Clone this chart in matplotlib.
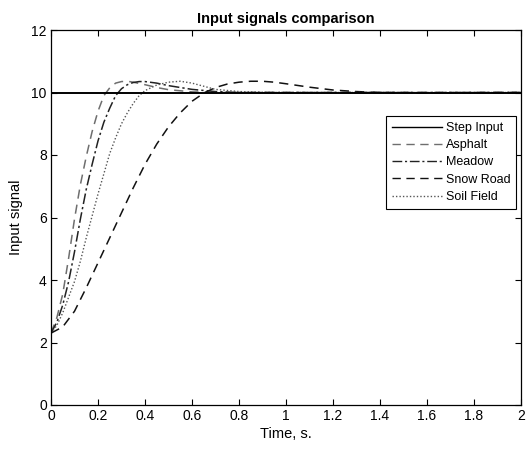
import matplotlib
matplotlib.use("Agg")
import matplotlib.pyplot as plt

plt.rcParams['font.family'] = ['Liberation Sans', 'DejaVu Sans']

step_t = [0, 0, 2]
step_v = [0, 10, 10]

asphalt_t = [0, 0.025, 0.05, 0.075, 0.1, 0.125, 0.15, 0.175, 0.2, 0.225, 0.25, 0.275,
             0.3, 0.325, 0.35, 0.4, 0.45, 0.5, 0.6, 0.7, 2.0]
asphalt_v = [2.3, 2.8, 3.55, 4.7, 5.95, 7.05, 7.95, 8.75, 9.4, 9.9, 10.15, 10.3,
             10.35, 10.36, 10.33, 10.25, 10.16, 10.09, 10.02, 10.0, 10.0]

meadow_t = [0, 0.025, 0.05, 0.075, 0.1, 0.125, 0.15, 0.175, 0.2, 0.225, 0.25, 0.275,
            0.3, 0.325, 0.35, 0.375, 0.4, 0.45, 0.5, 0.6, 0.7, 0.8, 2.0]
meadow_v = [2.3, 2.65, 3.2, 3.95, 4.9, 5.95, 6.9, 7.7, 8.45, 9.05, 9.5, 9.9,
            10.12, 10.25, 10.32, 10.35, 10.35, 10.3, 10.22, 10.1, 10.03, 10.0, 10.0]

snow_t = [0, 0.05, 0.1, 0.15, 0.2, 0.25, 0.3, 0.35, 0.4, 0.45, 0.5, 0.55, 0.6, 0.65,
          0.7, 0.75, 0.8, 0.85, 0.9, 0.95, 1.0, 1.1, 1.2, 1.3, 1.4, 1.6, 2.0]
snow_v = [2.3, 2.5, 3.0, 3.75, 4.55, 5.35, 6.15, 6.95, 7.7, 8.35, 8.9, 9.35, 9.72, 9.98,
          10.16, 10.27, 10.33, 10.36, 10.36, 10.33, 10.28, 10.17, 10.08, 10.03, 10.0, 9.99, 10.0]

soil_t = [0, 0.025, 0.05, 0.075, 0.1, 0.125, 0.15, 0.175, 0.2, 0.225, 0.25, 0.275,
          0.3, 0.325, 0.35, 0.375, 0.4, 0.45, 0.5, 0.55, 0.6, 0.65, 0.7, 0.8, 0.9, 1.0, 2.0]
soil_v = [2.3, 2.55, 2.95, 3.45, 3.95, 4.6, 5.35, 6.05, 6.75, 7.4, 8.05, 8.55,
          9.0, 9.35, 9.65, 9.9, 10.06, 10.24, 10.33, 10.36, 10.3, 10.2, 10.1, 10.03, 10.01, 10.0, 10.0]

x_ticks = [0, 0.2, 0.4, 0.6, 0.8, 1, 1.2, 1.4, 1.6, 1.8, 2]
x_labels = ['0', '0.2', '0.4', '0.6', '0.8', '1', '1.2', '1.4', '1.6', '1.8', '2']
y_ticks = [0, 2, 4, 6, 8, 10, 12]

fig = plt.figure(figsize=(5.29, 4.55), dpi=100)
fig.patch.set_facecolor('white')
ax = fig.add_axes([51/529, 1-405/455, 470/529, 375/455])

ax.plot(step_t, step_v, color='black', lw=1.4, ls='-', label='Step Input', zorder=5)
ax.plot(asphalt_t, asphalt_v, color='#6e6e6e', lw=1.1, ls=(0, (6, 4)), label='Asphalt')
ax.plot(meadow_t, meadow_v, color='#222222', lw=1.1, ls=(0, (7, 2, 1.5, 2)), label='Meadow')
ax.plot(snow_t, snow_v, color='#111111', lw=1.1, ls=(0, (6, 4)), label='Snow Road')
ax.plot(soil_t, soil_v, color='#555555', lw=1.0, ls=(0, (1, 1.5)), label='Soil Field')

ax.set_xlim(0, 2)
ax.set_ylim(0, 12)
ax.set_xticks(x_ticks)
ax.set_xticklabels(x_labels)
ax.set_yticks(y_ticks)
ax.tick_params(direction='in', top=True, right=True, length=4, width=0.8,
               labelsize=10, pad=3)
for s in ax.spines.values():
    s.set_linewidth(0.9)

ax.set_title('Input signals comparison', fontsize=10.5, fontweight='bold', pad=5)
ax.set_xlabel('Time, s.', fontsize=10.5, labelpad=3)
ax.set_ylabel('Input signal', fontsize=10.5, labelpad=6)

leg = ax.legend(loc='upper right', bbox_to_anchor=(0.997, 0.78), fontsize=9,
                frameon=True, fancybox=False, edgecolor='black', framealpha=1,
                handlelength=4.0, handletextpad=0.3, labelspacing=0.42,
                borderpad=0.45, borderaxespad=0.3)
leg.get_frame().set_linewidth(0.8)
for line in leg.get_lines():
    line.set_linewidth(1.0)

fig.savefig('out.png', dpi=100, facecolor='white')
